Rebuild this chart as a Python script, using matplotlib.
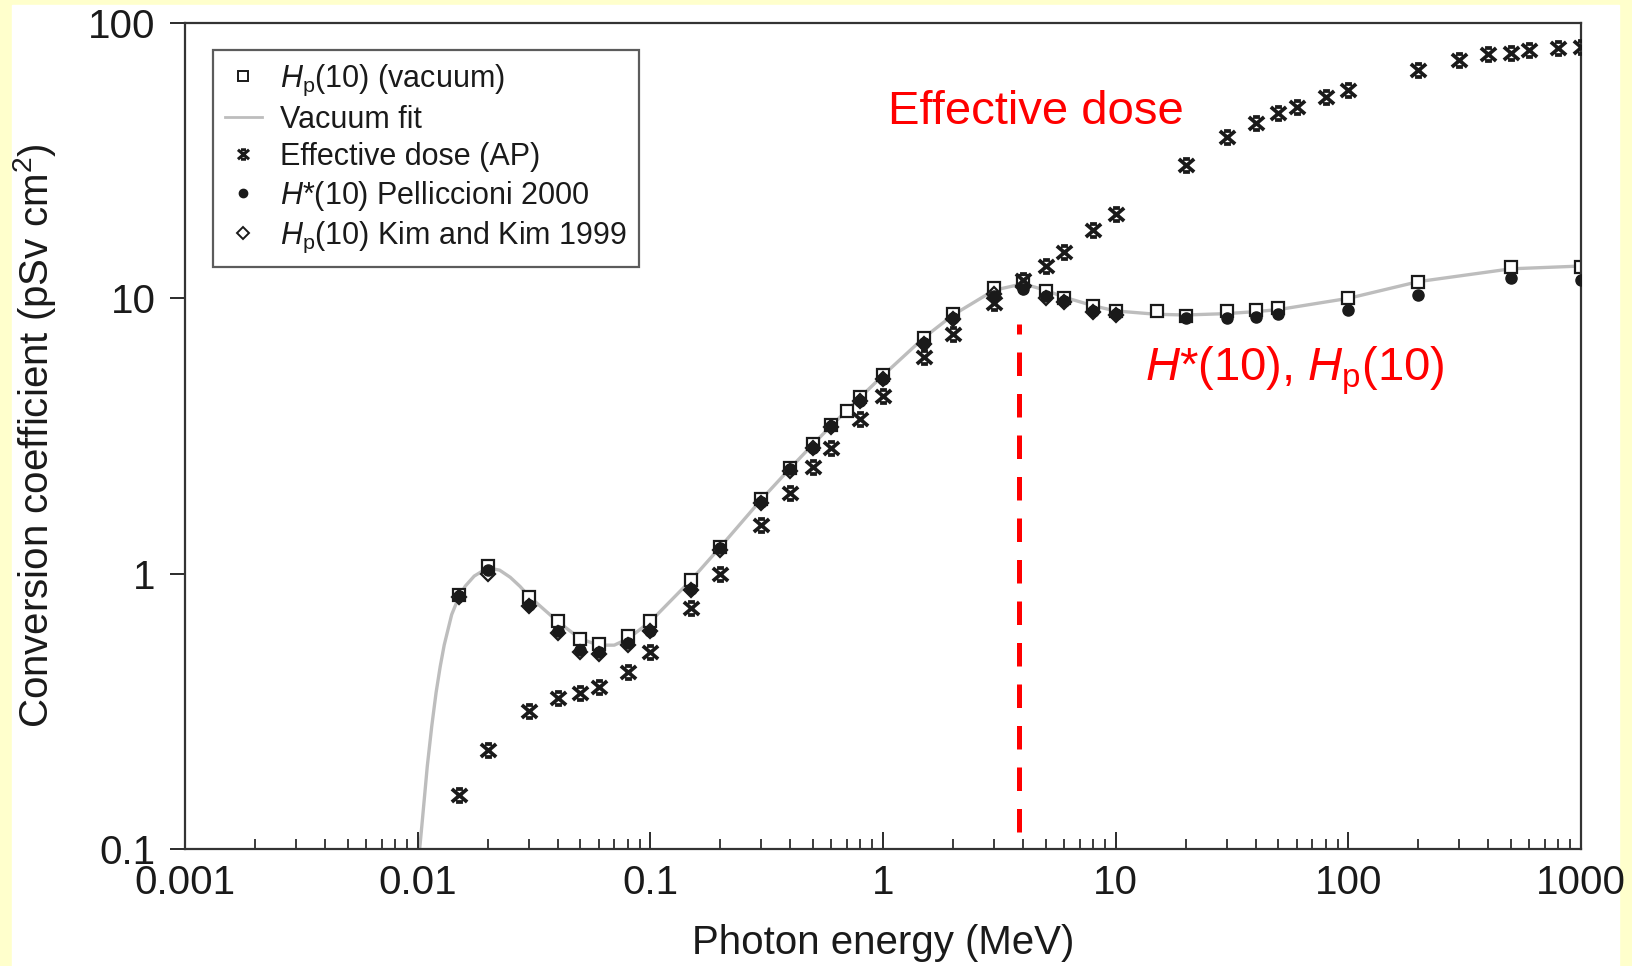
import numpy as np
import matplotlib
matplotlib.use('Agg')
import matplotlib.pyplot as plt
from matplotlib.path import Path
from matplotlib.patches import Rectangle
from matplotlib.lines import Line2D

plt.rcParams['font.family'] = ['Liberation Sans', 'DejaVu Sans']
plt.rcParams['mathtext.fontset'] = 'custom'
plt.rcParams['mathtext.rm'] = 'Liberation Sans'
plt.rcParams['mathtext.it'] = 'Liberation Sans:italic'

# Hp(10) in vacuum (squares)
hp_vac_e = [0.015, 0.02, 0.03, 0.04, 0.05, 0.06, 0.08, 0.1, 0.15, 0.2, 0.3, 0.4, 0.5, 0.6, 0.7,
            0.8, 1, 1.5, 2, 3, 4, 5, 6, 8, 10, 15, 20, 30, 40, 50, 100, 200, 500, 1000]
hp_vac = [0.84, 1.07, 0.82, 0.674, 0.579, 0.556, 0.596, 0.674, 0.95, 1.25, 1.87, 2.42, 2.96, 3.46, 3.91,
          4.39, 5.26, 7.19, 8.79, 10.9, 11.6, 10.6, 10.0, 9.35, 8.96, 8.96, 8.65, 8.96, 9.04, 9.19,
          10.0, 11.5, 13.0, 13.0]

# vacuum fit curve
fit_e = [0.0102, 0.0105, 0.011, 0.0115, 0.012, 0.0125, 0.013, 0.014, 0.015, 0.016, 0.0175, 0.02,
         0.0225, 0.025, 0.0275, 0.03, 0.035, 0.04, 0.05, 0.06, 0.07, 0.08, 0.1, 0.15, 0.2, 0.3,
         0.4, 0.5, 0.6, 0.8, 1, 1.5, 2, 3, 4, 5, 6, 8, 10, 15, 20, 30, 40, 50, 100, 200, 500, 1000]
fit_v = [0.1, 0.13, 0.2, 0.28, 0.37, 0.46, 0.55, 0.71, 0.82, 0.9, 0.98, 1.05,
         1.03, 0.97, 0.9, 0.83, 0.74, 0.67, 0.58, 0.55, 0.55, 0.58, 0.67, 0.95, 1.25, 1.86,
         2.42, 2.95, 3.45, 4.38, 5.25, 7.2, 8.7, 10.7, 11.3, 10.7, 10.1, 9.4, 9.0, 8.75, 8.7,
         8.8, 8.95, 9.1, 10.0, 11.5, 12.8, 13.1]

# effective dose AP (crosses)
eff_e = [0.015, 0.02, 0.03, 0.04, 0.05, 0.06, 0.08, 0.1, 0.15, 0.2, 0.3, 0.4, 0.5, 0.6, 0.8, 1,
         1.5, 2, 3, 4, 5, 6, 8, 10, 20, 30, 40, 50, 60, 80, 100, 200, 300, 400, 500, 600, 800, 1000]
eff = [0.157, 0.229, 0.318, 0.353, 0.369, 0.389, 0.44, 0.519, 0.748, 1.0, 1.50, 1.97, 2.44, 2.86,
       3.65, 4.41, 6.1, 7.4, 9.6, 11.7, 13.1, 14.7, 17.7, 20.3, 30.6, 38.4, 43.3, 47.3, 49.4, 53.9,
       57.3, 67.6, 73.1, 76.9, 77.6, 79.8, 81.1, 81.8]

# H*(10) Pelliccioni 2000 (dots)
pel_e = [0.015, 0.02, 0.03, 0.04, 0.05, 0.06, 0.08, 0.1, 0.15, 0.2, 0.3, 0.4, 0.5, 0.6, 0.8, 1,
         1.5, 2, 3, 4, 5, 6, 8, 10, 20, 30, 40, 50, 100, 200, 500, 1000]
pel = [0.83, 1.03, 0.77, 0.62, 0.53, 0.52, 0.56, 0.62, 0.88, 1.24, 1.82, 2.40, 2.85, 3.45, 4.25,
       5.1, 6.9, 8.5, 10.2, 10.8, 10.2, 9.8, 9.0, 8.75, 8.5, 8.45, 8.55, 8.8, 9.1, 10.3, 11.9, 11.7]

# Hp(10) Kim and Kim 1999 (diamonds)
kim_e = [0.015, 0.02, 0.03, 0.04, 0.05, 0.06, 0.08, 0.1, 0.15, 0.2, 0.3, 0.4, 0.5, 0.6, 0.8, 1,
         1.5, 2, 3, 4, 5, 6, 8, 10]
kim = [0.82, 1.0, 0.76, 0.61, 0.52, 0.51, 0.55, 0.62, 0.87, 1.22, 1.80, 2.36, 2.85, 3.40, 4.25,
       5.1, 6.8, 8.4, 10.4, 11.0, 10.0, 9.7, 8.9, 8.7]

# red marker line
cut_e = 3.84
cut_lo, cut_hi = 0.115, 8.1

W, H = 1632, 966
fig = plt.figure(figsize=(W / 100, H / 100), dpi=100, facecolor='#FFFFCC')
fig.patches.append(Rectangle((12 / W, 0), (1619 - 12) / W, (H - 5) / H,
                             transform=fig.transFigure, color='white', zorder=-1))
ax = fig.add_axes([185 / W, (H - 849) / H, 1396 / W, 826 / H])

# x-shaped marker with short caps top and bottom
cross = Path([(-1, -0.85), (1, 0.85), (-1, 0.85), (1, -0.85),
              (-0.45, 0.85), (0.45, 0.85), (-0.45, -0.85), (0.45, -0.85)],
             [Path.MOVETO, Path.LINETO] * 4)

ink = '#1a1a1a'
ax.plot(fit_e, fit_v, color='#bdbdbd', lw=2.4, zorder=1)
ax.plot(hp_vac_e, hp_vac, ls='none', marker='s', ms=9, mfc='white', mec=ink, mew=1.6, zorder=2)
ax.plot(kim_e, kim, ls='none', marker='D', ms=7, mfc='white', mec=ink, mew=1.6, zorder=3)
ax.plot(pel_e, pel, ls='none', marker='o', ms=8, mfc=ink, mec=ink, zorder=4)
ax.plot(eff_e, eff, ls='none', marker=cross, ms=11, mfc='none', mec=ink, mew=2.7, zorder=5)

ax.plot([cut_e, cut_e], [cut_lo, cut_hi], color='red', lw=3.6, dashes=(4.7, 3.6), zorder=6)

ax.text(1.05, 47.5, 'Effective dose', color='red', fontsize=34, va='center', ha='left')
ax.text(13.4, 5.05, r'$H$*(10), $H_\mathrm{p}$(10)', color='red', fontsize=34,
        va='baseline', ha='left')

ax.set_xscale('log')
ax.set_yscale('log')
ax.set_xlim(0.001, 1000)
ax.set_ylim(0.1, 100)
ax.set_xticks([0.001, 0.01, 0.1, 1, 10, 100, 1000])
ax.set_xticklabels(['0.001', '0.01', '0.1', '1', '10', '100', '1000'])
ax.set_yticks([0.1, 1, 10, 100])
ax.set_yticklabels(['0.1', '1', '10', '100'])
ax.yaxis.set_minor_locator(matplotlib.ticker.NullLocator())

ax.tick_params(axis='x', which='major', direction='in', length=12, width=1.3, labelsize=29,
               pad=11, colors=ink)
ax.tick_params(axis='x', which='minor', direction='in', length=7, width=1.2, colors=ink)
ax.tick_params(axis='y', which='major', direction='out', length=11, width=1.3, labelsize=29,
               pad=10, colors=ink)
for s in ax.spines.values():
    s.set_linewidth(1.6)
    s.set_color('#333333')

ax.set_xlabel('Photon energy (MeV)', fontsize=29, color=ink, labelpad=16)
ax.set_ylabel('Conversion coefficient (pSv cm$^2$)', fontsize=29, color=ink, labelpad=22)

handles = [
    Line2D([], [], ls='none', marker='s', ms=7, mfc='white', mec=ink, mew=1.4),
    Line2D([], [], color='#bdbdbd', lw=2),
    Line2D([], [], ls='none', marker=cross, ms=8, mfc='none', mec=ink, mew=2.2),
    Line2D([], [], ls='none', marker='o', ms=6, mfc=ink, mec=ink),
    Line2D([], [], ls='none', marker='D', ms=6, mfc='white', mec=ink, mew=1.4),
]
labels = [r'$H_\mathrm{p}$(10) (vacuum)', 'Vacuum fit', 'Effective dose (AP)',
          r'$H$*(10) Pelliccioni 2000', r'$H_\mathrm{p}$(10) Kim and Kim 1999']
leg = ax.legend(handles, labels, loc='upper left', bbox_to_anchor=(0.020, 0.967),
                borderaxespad=0, fontsize=22, frameon=True, fancybox=False,
                handlelength=1.2, handletextpad=0.6, labelspacing=0.23,
                borderpad=0.4, labelcolor=ink)
leg.get_frame().set_edgecolor('#333333')
leg.get_frame().set_linewidth(1.6)

fig.savefig('out.png', dpi=100, facecolor=fig.get_facecolor())
